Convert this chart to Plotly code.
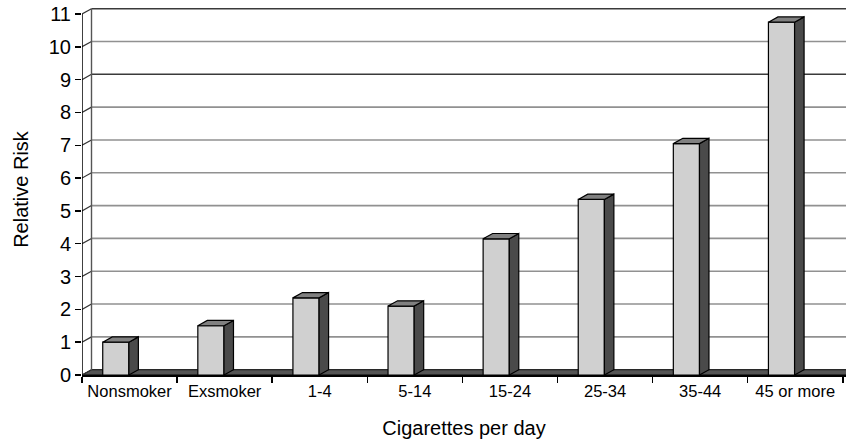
import plotly.graph_objects as go

# ---------------- data ----------------
categories = ["Nonsmoker", "Exsmoker", "1-4", "5-14", "15-24", "25-34", "35-44", "45 or more"]
relative_risk = [1.0, 1.5, 2.35, 2.1, 4.15, 5.35, 7.05, 10.75]
y_tick_values = list(range(0, 12))
y_title = "Relative Risk"
x_title = "Cigarettes per day"

# ---------------- geometry / style ----------------
W, H = 846, 445
ML, MR, MT, MB = 82, 0, 4, 70
plot_w = W - ML - MR
plot_h = H - MT - MB
px_per_cat = 95.1
px_per_unit = 32.82
x_min = -0.5
x_max = x_min + plot_w / px_per_cat
y_max = plot_h / px_per_unit

DX = 9.5 / px_per_cat       # 3D depth, x (data units)
DY = 5.3 / px_per_unit      # 3D depth, y (data units)
BAR_OFF = -0.282
BAR_W = 0.275

FRONT = "#d0d0d0"
SIDE = "#4a4a4a"
TOP = "#808080"
FLOOR = "#545454"
FONT = "Liberation Sans, Arial, Helvetica, sans-serif"

n = len(categories)
xs = list(range(n))

fig = go.Figure()

# front faces
fig.add_trace(go.Bar(
    x=xs, y=relative_risk, width=BAR_W, offset=BAR_OFF,
    marker=dict(color=FRONT, line=dict(color="black", width=1.2)),
    showlegend=False, hoverinfo="skip",
))

# side and top faces (computed from the data values)
side_x, side_y, top_x, top_y = [], [], [], []
for i, v in zip(xs, relative_risk):
    xl = i + BAR_OFF
    xr = xl + BAR_W
    side_x += [xr, xr + DX, xr + DX, xr, xr, None]
    side_y += [0, DY, v + DY, v, 0, None]
    top_x += [xl, xl + DX, xr + DX, xr, xl, None]
    top_y += [v, v + DY, v + DY, v, v, None]

fig.add_trace(go.Scatter(
    x=side_x, y=side_y, xaxis="x2", yaxis="y", mode="lines", fill="toself",
    fillcolor=SIDE, line=dict(color="black", width=1.2),
    showlegend=False, hoverinfo="skip",
))
fig.add_trace(go.Scatter(
    x=top_x, y=top_y, xaxis="x2", yaxis="y", mode="lines", fill="toself",
    fillcolor=TOP, line=dict(color="black", width=1.2),
    showlegend=False, hoverinfo="skip",
))

shapes = []
# floor
shapes.append(dict(
    type="path", xref="x", yref="y", layer="below",
    path=f"M {x_min},0 L {x_max + 1},0 L {x_max + 1 + DX},{DY} L {x_min + DX},{DY} Z",
    fillcolor=FLOOR, line=dict(color="black", width=1),
))
# back-wall gridlines
dark_lines = {9, 11}
for v in y_tick_values[1:]:
    shapes.append(dict(
        type="line", xref="x", yref="y", layer="below",
        x0=x_min + DX, x1=x_max + 1, y0=v + DY, y1=v + DY,
        line=dict(color="#3a3a3a" if v in dark_lines else "#919191", width=1.6),
    ))
# left side wall diagonals
for v in y_tick_values:
    shapes.append(dict(
        type="line", xref="x", yref="y", layer="below",
        x0=x_min, x1=x_min + DX, y0=v, y1=v + DY,
        line=dict(color="#333333", width=1.2),
    ))
# back wall left edge
shapes.append(dict(
    type="line", xref="x", yref="y", layer="below",
    x0=x_min + DX, x1=x_min + DX, y0=DY, y1=y_tick_values[-1] + DY,
    line=dict(color="#555555", width=1.4),
))
# front value axis line
shapes.append(dict(
    type="line", xref="x", yref="y", layer="above",
    x0=x_min, x1=x_min, y0=0, y1=y_tick_values[-1],
    line=dict(color="black", width=1.5),
))

boundaries = [i - 0.5 for i in range(n + 1)]

fig.update_layout(
    width=W, height=H,
    margin=dict(l=ML, r=MR, t=MT, b=MB, pad=0, autoexpand=False),
    paper_bgcolor="white", plot_bgcolor="white",
    font=dict(family=FONT, color="black"),
    shapes=shapes,
    bargap=0,
    xaxis=dict(
        range=[x_min, x_max], tickmode="array", tickvals=boundaries,
        ticktext=["" for _ in boundaries], ticks="outside", ticklen=6,
        tickcolor="black", tickwidth=1.5,
        showline=True, linecolor="black", linewidth=1.5,
        showgrid=False, zeroline=False, fixedrange=True, automargin=False,
    ),
    xaxis2=dict(
        overlaying="x", anchor="y", side="bottom",
        range=[x_min, x_max], tickmode="array", tickvals=xs, ticktext=categories,
        ticks="outside", ticklen=1, tickcolor="rgba(0,0,0,0)",
        tickfont=dict(size=16.5, family=FONT, color="black"),
        showline=False, showgrid=False, zeroline=False, automargin=False,
        title=dict(text=x_title, font=dict(size=20, family=FONT, color="black"), standoff=22),
    ),
    yaxis=dict(
        range=[0, y_max], tickmode="array", tickvals=y_tick_values,
        ticks="outside", ticklen=6, tickcolor="black", tickwidth=1.5,
        tickfont=dict(size=20, family=FONT, color="black"),
        showline=False, showgrid=False, zeroline=False, automargin=False,
        title=dict(text=y_title, font=dict(size=20, family=FONT, color="black"), standoff=14),
    ),
)

fig.write_html(
    "out.html",
    config={"displayModeBar": False, "staticPlot": True},
    post_script="document.body.style.margin='0';document.body.style.overflow='hidden';",
)
